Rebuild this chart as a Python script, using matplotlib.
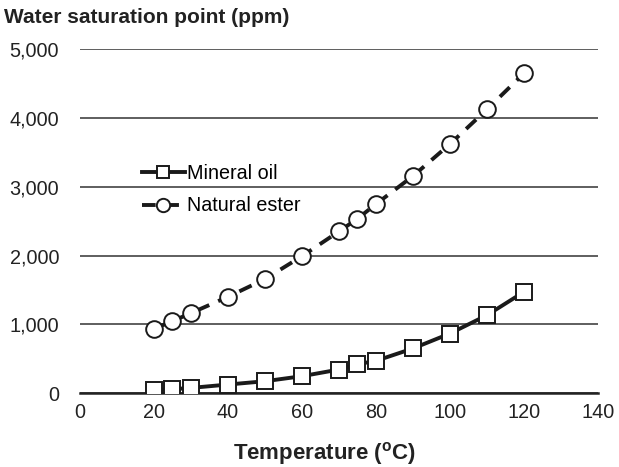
import matplotlib
matplotlib.use("Agg")
import matplotlib.pyplot as plt

plt.rcParams["font.family"] = ["Liberation Sans", "DejaVu Sans"]

# temperatures (degC)
temps = [20, 25, 30, 40, 50, 60, 70, 75, 80, 90, 100, 110, 120]
# water saturation point (ppm)
mineral_oil = [44, 58, 77, 126, 174, 247, 344, 421, 470, 650, 867, 1133, 1472]
natural_ester = [935, 1047, 1163, 1400, 1657, 1990, 2350, 2534, 2747, 3154, 3619, 4123, 4647]

x_ticks = [0, 20, 40, 60, 80, 100, 120, 140]
y_ticks = [0, 1000, 2000, 3000, 4000, 5000]

fig = plt.figure(figsize=(6.19, 4.67), dpi=100)
ax = fig.add_axes([0.129, 0.158, 0.837, 0.737])

ax.plot(temps, mineral_oil, color="#1a1a1a", lw=2.8, marker="s", ms=11.5,
        mfc="white", mec="#1a1a1a", mew=1.4, label="Mineral oil", zorder=3)
ax.plot(temps, natural_ester, color="#1a1a1a", lw=2.8, ls=(0, (3.5, 2.5)),
        marker="o", ms=12, mfc="white", mec="#1a1a1a", mew=1.4,
        label="Natural ester", zorder=3)

ax.set_xlim(0, 140)
ax.set_ylim(0, 5000)
ax.set_xticks(x_ticks)
ax.set_yticks(y_ticks)
ax.set_yticklabels([f"{v:,}" for v in y_ticks])
ax.tick_params(length=0, labelsize=14.3, colors="#222222", pad=7)
ax.tick_params(axis="y", pad=15)

ax.grid(axis="y", color="#333333", lw=1.1)
ax.set_axisbelow(True)
for s in ["top", "right", "left"]:
    ax.spines[s].set_visible(False)
ax.spines["bottom"].set_color("#222222")
ax.spines["bottom"].set_linewidth(1.8)

ax.set_xlabel("Temperature ($\\mathregular{^{o}}$C)", fontsize=16,
              fontweight="bold", color="#222222")
ax.xaxis.set_label_coords(0.473, -0.135)
fig.text(0.006, 0.962, "Water saturation point (ppm)", fontsize=15,
         fontweight="bold", color="#222222", va="center")

leg = ax.legend(loc="upper left", bbox_to_anchor=(0.104, 0.69), frameon=False,
                fontsize=14.2, handlelength=2.2, handletextpad=0.1,
                labelspacing=0.7, borderaxespad=0, markerscale=0.8)

fig.savefig("out.png", dpi=100)
